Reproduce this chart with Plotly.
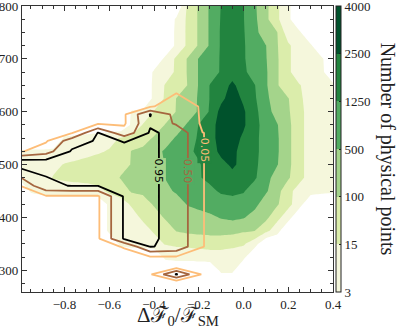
import numpy as np
import plotly.graph_objects as go

# histogram nodes
X_BINS = [-1.0, -0.95, -0.9, -0.85, -0.8, -0.75, -0.7, -0.65, -0.6, -0.55,
          -0.5, -0.45, -0.4, -0.35, -0.3, -0.25, -0.2, -0.15, -0.1, -0.05,
          0.0, 0.05, 0.1, 0.15, 0.2, 0.25, 0.3, 0.35, 0.4]
Y_BINS = [250, 275, 300, 325, 350, 375, 400, 425, 450, 475, 500, 525, 550,
          575, 600, 625, 650, 675, 700, 725, 750, 775, 800]

# number of physical points per node (rows follow Y_BINS)
COUNTS = [
    [0] * 29,
    [0] * 29,
    [0, 0, 0, 0, 0, 0, 0, 0, 0, 0, 0, 0, 0, 0, 0, 0, 0, 0, 6, 6, 0, 0, 0, 0, 0, 0, 0, 0, 0],
    [0, 0, 0, 0, 0, 0, 0, 0, 0, 0, 0, 0, 0, 6, 8, 8, 9, 10, 10, 8, 6, 0, 0, 0, 0, 0, 0, 0, 0],
    [0, 0, 0, 0, 0, 0, 0, 0, 0, 6, 8, 9, 10, 20, 30, 35, 40, 45, 45, 40, 25, 8, 0, 0, 0, 0, 0, 0, 0],
    [0, 0, 0, 0, 0, 0, 0, 0, 6, 8, 8, 10, 25, 40, 120, 180, 220, 250, 250, 220, 150, 110, 40, 8, 0, 0, 0, 0, 0],
    [0, 0, 0, 0, 0, 0, 0, 0, 6, 8, 10, 30, 50, 150, 200, 280, 350, 420, 550, 650, 550, 350, 200, 40, 8, 0, 0, 0, 0],
    [0, 0, 0, 0, 0, 0, 0, 0, 6, 10, 25, 50, 150, 200, 300, 550, 700, 850, 950, 1000, 900, 700, 300, 150, 40, 8, 0, 0, 0],
    [0, 5, 8, 8, 8, 8, 10, 12, 30, 50, 150, 200, 280, 400, 600, 800, 950, 1100, 1400, 1500, 1350, 900, 600, 250, 40, 10, 8, 6, 5],
    [5, 8, 10, 20, 30, 40, 40, 45, 60, 120, 200, 300, 350, 520, 900, 1000, 1200, 1500, 2000, 2200, 2000, 1400, 800, 300, 150, 40, 10, 8, 6],
    [6, 8, 10, 12, 20, 30, 40, 45, 55, 70, 120, 250, 350, 520, 900, 1100, 1200, 1600, 2200, 2700, 2200, 1500, 900, 550, 200, 40, 10, 8, 6],
    [4, 5, 5, 6, 8, 10, 12, 14, 20, 40, 120, 200, 350, 600, 900, 1150, 1400, 2000, 2800, 2900, 2000, 1500, 1000, 600, 200, 40, 10, 8, 6],
    [0, 0, 0, 0, 5, 6, 8, 10, 12, 20, 35, 60, 150, 300, 600, 900, 1400, 2100, 3000, 3100, 2300, 1500, 1000, 600, 200, 40, 10, 8, 6],
    [0, 0, 0, 0, 0, 0, 0, 0, 0, 0, 5, 20, 40, 120, 250, 600, 1300, 2000, 3100, 3600, 2700, 1700, 900, 550, 200, 40, 10, 8, 6],
    [0, 0, 0, 0, 0, 0, 0, 0, 0, 0, 4, 5, 20, 40, 120, 250, 600, 1400, 3000, 3700, 2700, 1600, 800, 350, 150, 40, 10, 8, 6],
    [0, 0, 0, 0, 0, 0, 0, 0, 0, 0, 0, 0, 6, 25, 110, 200, 600, 1300, 2200, 3200, 2300, 1400, 700, 250, 120, 30, 10, 8, 6],
    [0, 0, 0, 0, 0, 0, 0, 0, 0, 0, 0, 0, 6, 20, 30, 110, 550, 1300, 1900, 2800, 1900, 1300, 600, 150, 30, 20, 10, 8, 6],
    [0, 0, 0, 0, 0, 0, 0, 0, 0, 0, 0, 0, 5, 8, 30, 130, 550, 800, 1400, 2000, 1500, 900, 600, 150, 30, 8, 8, 6, 0],
    [0, 0, 0, 0, 0, 0, 0, 0, 0, 0, 0, 0, 0, 6, 30, 130, 550, 750, 1400, 1900, 1400, 800, 550, 150, 30, 8, 6, 5, 0],
    [0, 0, 0, 0, 0, 0, 0, 0, 0, 0, 0, 0, 0, 0, 6, 30, 150, 600, 1400, 1800, 1400, 750, 520, 130, 30, 8, 5, 0, 0],
    [0, 0, 0, 0, 0, 0, 0, 0, 0, 0, 0, 0, 0, 0, 6, 30, 150, 600, 1400, 1800, 1350, 700, 300, 120, 8, 5, 0, 0, 0],
    [0, 0, 0, 0, 0, 0, 0, 0, 0, 0, 0, 0, 0, 0, 5, 30, 150, 600, 1350, 1700, 1300, 650, 200, 30, 6, 0, 0, 0, 0],
    [0, 0, 0, 0, 0, 0, 0, 0, 0, 0, 0, 0, 0, 0, 0, 30, 150, 600, 1300, 1700, 1300, 600, 200, 30, 6, 0, 0, 0, 0],
]

# colorbar levels
COLOR_LEVELS = [3, 15, 100, 500, 1250, 2500, 4000]
COLOR_LABELS = ["3", "15", "100", "500", "1250", "2500", "4000"]
FILL_COLORS = ["#f5f7dc", "#dbedab", "#a4d48b", "#52ac62", "#22843f", "#00522c"]

# coarser grid of the fraction field
FRAC_X = [-1.0, -0.883, -0.767, -0.65, -0.533, -0.417, -0.3, -0.183, -0.067,
          0.05, 0.167, 0.283, 0.4]
FRAC_Y = [250, 280, 292.5, 305, 325, 345, 360, 440, 460, 495, 508, 525, 545,
          560, 578, 595, 610, 640, 800]
FRACTION = [
    [0, 0, 0, 0, 0, 0, 0, 0, 0, 0, 0, 0, 0],
    [0, 0, 0, 0, 0, 0, 0, 0, 0, 0, 0, 0, 0],
    [0, 0, 0, 0, 0, 0, 1, 0, 0, 0, 0, 0, 0],
    [0, 0, 0, 0, 0, 0, 0, 0, 0, 0, 0, 0, 0],
    [0, 0, 0, 0, 0, 0, 0, 0, 0, 0, 0, 0, 0],
    [0, 0, 0, 0, 0.06, 0.97, 0.85, 0.053, 0, 0, 0, 0, 0],
    [0, 0, 0, 0, 1, 1, 0.85, 0.053, 0, 0, 0, 0, 0],
    [0, 0, 0, 0, 1, 1, 0.85, 0.053, 0, 0, 0, 0, 0],
    [0.04, 0.9, 0.96, 0.96, 1, 1, 0.85, 0.053, 0, 0, 0, 0, 0],
    [1, 1, 1, 1, 1, 1, 0.85, 0.053, 0, 0, 0, 0, 0],
    [1, 1, 1, 1, 1, 1, 0.85, 0.053, 0, 0, 0, 0, 0],
    [0, 0.3, 1, 1, 1, 1, 0.85, 0.053, 0, 0, 0, 0, 0],
    [0, 0, 0.75, 1, 0.94, 1, 0.85, 0.053, 0, 0, 0, 0, 0],
    [0, 0, 0.02, 0.97, 0.2, 1, 0.85, 0.053, 0, 0, 0, 0, 0],
    [0, 0, 0, 0, 0, 0.9, 0.43, 0, 0, 0, 0, 0, 0],
    [0, 0, 0, 0, 0, 0.97, 0.35, 0, 0, 0, 0, 0, 0],
    [0, 0, 0, 0, 0, 0, 0.3, 0, 0, 0, 0, 0, 0],
    [0, 0, 0, 0, 0, 0, 0, 0, 0, 0, 0, 0, 0],
    [0, 0, 0, 0, 0, 0, 0, 0, 0, 0, 0, 0, 0],
]
FRAC_LEVELS = [0.05, 0.50, 0.95]
FRAC_LABELS = ["0.05", "0.50", "0.95"]
LINE_COLORS = ["#fdbd78", "#a5663f", "#000000"]
# where each level is labelled (x, y) and the fill it sits on
LABEL_SPOTS = [(-0.176, 528), (-0.249, 487), (-0.378, 487)]
LABEL_BG = ["#22843f", "#52ac62", "#a4d48b"]

SERIF = "Liberation Serif"
INK = "#222"

# counts -> position on the (evenly spaced) colour levels
level_pos = np.interp(np.array(COUNTS, dtype=float),
                      [0] + COLOR_LEVELS, list(range(-1, len(COLOR_LEVELS))))

n = len(COLOR_LEVELS)
fill_scale = [[0, "#ffffff"]]
for k, c in enumerate(FILL_COLORS):
    fill_scale.append([(k + 1) / n, c])
fill_scale.append([1, FILL_COLORS[-1]])

# stepped scale for the colour bar (one band per level interval)
bar_scale = []
for k, c in enumerate(FILL_COLORS):
    bar_scale.append([k / (n - 1), c])
    bar_scale.append([(k + 1) / (n - 1), c])

fig = go.Figure()

fig.add_trace(go.Contour(
    x=X_BINS, y=Y_BINS, z=level_pos,
    contours=dict(start=0, end=n - 1, size=1, coloring="fill", showlines=False),
    colorscale=fill_scale,
    line=dict(width=0, smoothing=0),
    showscale=False,
    hoverinfo="skip",
))

# one trace per fraction level so each keeps its own colour
for lev, col in zip(FRAC_LEVELS, LINE_COLORS):
    fig.add_trace(go.Contour(
        x=FRAC_X, y=FRAC_Y, z=FRACTION,
        contours=dict(start=lev, end=lev, size=1, coloring="lines"),
        colorscale=[[0, col], [1, col]],
        line=dict(width=1.8, smoothing=0),
        showscale=False,
        hoverinfo="skip",
    ))

# colour bar only
fig.add_trace(go.Scatter(
    x=[None], y=[None], mode="markers", hoverinfo="skip",
    marker=dict(
        color=[0, n - 1], cmin=0, cmax=n - 1, colorscale=bar_scale,
        showscale=True,
        colorbar=dict(
            x=1.01, xanchor="left", y=0.5, yanchor="middle", len=1,
            thickness=5, xpad=0, ypad=0,
            outlinewidth=1, outlinecolor=INK,
            tickvals=list(range(n)), ticktext=COLOR_LABELS,
            ticks="inside", ticklen=2, tickcolor=INK,
            ticklabeloverflow="allow",
            tickfont=dict(family=SERIF, size=13, color=INK),
        ),
    ),
))

for txt, (lx, ly), col, bg in zip(FRAC_LABELS, LABEL_SPOTS, LINE_COLORS, LABEL_BG):
    fig.add_annotation(
        x=lx, y=ly, text=txt, textangle=90, showarrow=False,
        font=dict(family="DejaVu Sans", size=11, color=col),
        bgcolor=bg, borderpad=0,
    )

axis_common = dict(
    showline=True, linecolor="#333", linewidth=1.3, mirror="ticks",
    ticks="inside", ticklen=5, tickwidth=1, tickcolor="#333",
    showgrid=False, zeroline=False, automargin=False,
    ticklabeloverflow="allow",
    tickfont=dict(family=SERIF, size=13, color=INK),
)

fig.update_xaxes(
    range=[-0.99, 0.4], tickvals=[-0.8, -0.6, -0.4, -0.2, 0.0, 0.2, 0.4],
    tickformat=".1f",
    minor=dict(dtick=0.05, tick0=0, ticks="inside", ticklen=2.5, tickcolor="#333"),
    **axis_common,
)
fig.update_yaxes(
    range=[259, 800], tick0=0, dtick=100,
    minor=dict(dtick=25, tick0=0, ticks="inside", ticklen=2.5, tickcolor="#333"),
    **axis_common,
)

fig.add_annotation(
    text="Δℱ<sub>0</sub>/ℱ<sub>SM</sub>",
    xref="paper", yref="paper", x=0.5, y=-0.03,
    xanchor="center", yanchor="top", showarrow=False,
    font=dict(family=SERIF, size=21, color=INK),
)
fig.add_annotation(
    text="Number of physical points", textangle=90,
    xref="paper", yref="paper", x=1.178, y=0.5,
    xanchor="center", yanchor="middle", showarrow=False,
    font=dict(family=SERIF, size=20, color=INK),
)

fig.update_layout(
    width=399, height=331,
    margin=dict(l=22, r=66, t=6, b=39, autoexpand=False),
    plot_bgcolor="white", paper_bgcolor="white",
    showlegend=False,
)

fig.write_html("out.html", config={"displayModeBar": False},
               post_script="document.body.style.margin = '0px';")
